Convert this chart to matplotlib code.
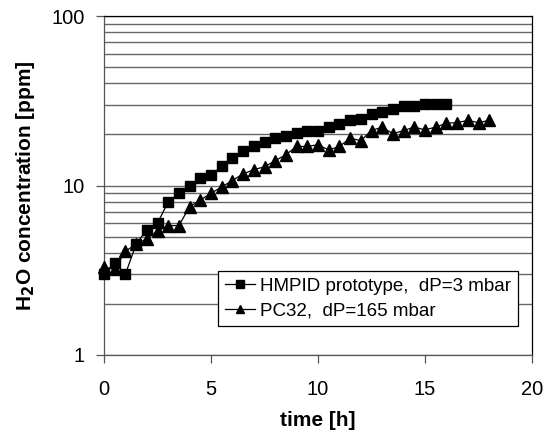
import matplotlib
matplotlib.use("Agg")
import matplotlib.pyplot as plt
from matplotlib.ticker import LogLocator, FixedLocator, NullFormatter

plt.rcParams['font.family'] = ['Liberation Sans', 'DejaVu Sans']

# Measurement times [h], sampled every half hour
time_hmpid = [i * 0.5 for i in range(33)]
time_pc32 = [i * 0.5 for i in range(37)]

# H2O concentration [ppm]
h2o_hmpid = [3.0, 3.5, 3.0, 4.5, 5.5, 6.0, 8.0, 9.0, 10.0, 11.0, 11.5, 13.0,
             14.5, 16.0, 17.0, 18.0, 19.0, 19.6, 20.4, 21.1, 21.1, 22.0, 23.1,
             24.2, 24.6, 26.5, 27.3, 28.2, 29.3, 29.6, 30.3, 30.3, 30.3]
h2o_pc32 = [3.3, 3.2, 4.1, 4.5, 4.85, 5.4, 5.8, 5.8, 7.5, 8.2, 9.0, 9.8, 10.7,
            11.7, 12.4, 12.9, 14.0, 15.2, 17.0, 17.0, 17.4, 16.2, 17.0, 19.0,
            18.4, 21.1, 22.1, 20.2, 21.1, 22.1, 21.3, 22.1, 23.3, 23.5, 24.2,
            23.5, 24.2]

label_hmpid = "HMPID prototype,  dP=3 mbar"
label_pc32 = "PC32,  dP=165 mbar"

x_ticks = [0, 5, 10, 15, 20]
y_ticks = [1, 10, 100]
y_ticklabels = ["1", "10", "100"]

fig = plt.figure(figsize=(5.54, 4.34), dpi=100)
ax = fig.add_axes([104 / 554, 1 - 355 / 434, 428 / 554, 339 / 434])

ax.set_yscale('log')
ax.set_xlim(0, 20)
ax.set_ylim(1, 100)

# Horizontal grid at every major and minor decade step
ax.yaxis.set_major_locator(FixedLocator(y_ticks))
ax.yaxis.set_minor_locator(LogLocator(base=10, subs=range(2, 10)))
ax.yaxis.set_minor_formatter(NullFormatter())
ax.set_yticklabels(y_ticklabels)
ax.grid(True, which='both', axis='y', color='#666666', linewidth=1.0)
ax.set_axisbelow(True)

ax.plot(time_hmpid, h2o_hmpid, color='black', linewidth=0.9, marker='s',
        markersize=7.5, label=label_hmpid, zorder=3, clip_on=False)
ax.plot(time_pc32, h2o_pc32, color='black', linewidth=0.9, marker='^',
        markersize=8.5, label=label_pc32, zorder=3, clip_on=False)

ax.set_xticks(x_ticks)
ax.tick_params(axis='both', which='major', direction='out', length=6,
               width=0.9, color='#555555', labelsize=14.5, pad=8)
ax.tick_params(axis='y', which='minor', length=0)
ax.tick_params(axis='x', pad=12)

for side in ('left', 'bottom'):
    ax.spines[side].set_color('#555555')
    ax.spines[side].set_linewidth(0.9)
for side in ('top', 'right'):
    ax.spines[side].set_color('black')
    ax.spines[side].set_linewidth(0.9)

ax.set_xlabel('time [h]', fontsize=15, fontweight='bold', labelpad=9)
ax.set_ylabel('H$_\\mathbf{2}$O concentration [ppm]', fontsize=15,
              fontweight='bold', labelpad=10)

leg = ax.legend(loc='lower right', bbox_to_anchor=(0.967, 0.0855),
                borderaxespad=0, fontsize=13.5, frameon=True, fancybox=False,
                edgecolor='black', framealpha=1, markerscale=0.75,
                handlelength=1.6, handletextpad=0.3, borderpad=0.35,
                labelspacing=0.4)
leg.get_frame().set_linewidth(0.9)

fig.savefig('out.png', dpi=100)
